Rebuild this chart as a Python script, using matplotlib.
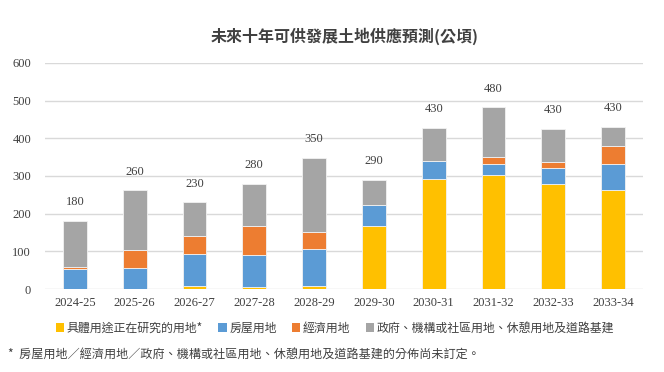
import matplotlib
matplotlib.use("Agg")
import matplotlib.pyplot as plt
import numpy as np
from matplotlib.patches import Patch

categories = ["2024-25", "2025-26", "2026-27", "2027-28", "2028-29",
              "2029-30", "2030-31", "2031-32", "2032-33", "2033-34"]
under_study = [0, 0, 8, 4, 8, 167, 293, 302, 278, 262]
housing = [53, 55, 85, 85, 99, 57, 48, 30, 43, 70]
economic = [5, 49, 48, 78, 45, 0, 0, 19, 15, 48]
gic_other = [123, 158, 89, 113, 197, 66, 87, 131, 89, 51]
totals = [180, 260, 230, 280, 350, 290, 430, 480, 430, 430]

series_names = ["具體用途正在研究的用地*", "房屋用地", "經濟用地",
                "政府、機構或社區用地、休憩用地及道路基建"]
colors = ["#FFC000", "#5B9BD5", "#ED7D31", "#A5A5A5"]

cjk = ["Noto Sans CJK TC", "DejaVu Sans"]
serif = ["Liberation Serif", "DejaVu Serif"]

fig = plt.figure(figsize=(6.64, 3.72), dpi=100)
ax = fig.add_axes([45/664, 1-289/372, 598/664, 226/372])

x = np.arange(len(categories))
w = 0.4
bottom = np.zeros(len(categories))
for vals, c in zip([under_study, housing, economic, gic_other], colors):
    ax.bar(x, vals, w, bottom=bottom, color=c, edgecolor="#f2f2f2", linewidth=0.6, zorder=3)
    bottom += np.array(vals)

for xi, top, t in zip(x, bottom, totals):
    ax.annotate(str(t), (xi, top), xytext=(0, 9), textcoords="offset points",
                ha="center", va="bottom", fontsize=9, family=serif, color="#404040")

ax.set_xlim(-0.5, 9.5)
ax.set_ylim(0, 600)
ax.set_yticks(range(0, 601, 100))
ax.yaxis.grid(True, color="#d9d9d9", linewidth=1, zorder=0)
for s in ax.spines.values():
    s.set_visible(False)
ax.tick_params(axis="both", length=0, labelsize=9, colors="#404040", pad=6)
ax.tick_params(axis="y", pad=10)
ax.set_xticks(x)
ax.set_xticklabels(categories)
for lab in ax.get_xticklabels() + ax.get_yticklabels():
    lab.set_family(serif)

fig.text(345/664, 1-36/372, "未來十年可供發展土地供應預測(公頃)", ha="center", va="center",
         fontsize=11.5, fontweight="bold", family=cjk, color="#404040")

handles = [Patch(facecolor=c, edgecolor="none") for c in colors]
fig.legend(handles, series_names, loc="center", bbox_to_anchor=(335/664, 1-328/372), ncol=4,
           frameon=False, prop={"family": cjk, "size": 8.6}, handlelength=0.7, handleheight=0.7,
           handletextpad=0.2, columnspacing=1.3, labelcolor="#404040")

fig.text(8/664, 1-354/372, "*  房屋用地／經濟用地／政府、機構或社區用地、休憩用地及道路基建的分佈尚未訂定。",
         ha="left", va="center", fontsize=8.7, family=cjk, color="#404040")

fig.savefig("out.png", dpi=100)
